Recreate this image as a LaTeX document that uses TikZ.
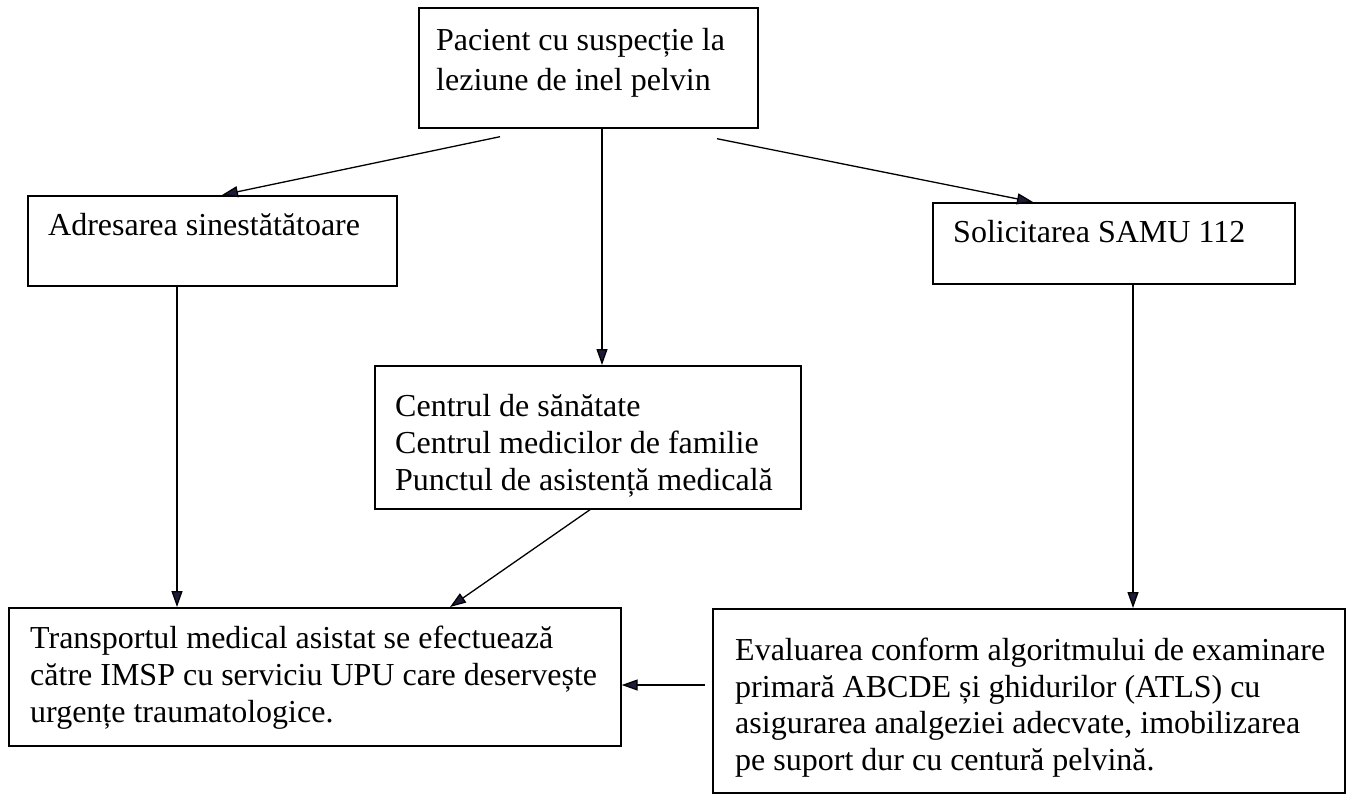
\documentclass[tikz,border=0pt]{standalone}
\usepackage{fontspec}
\setmainfont{Liberation Serif}
\usetikzlibrary{arrows.meta}
\definecolor{tipcol}{HTML}{1C1C38}
\tikzset{
  box/.style={draw=black, line width=1.7pt, inner sep=0pt, anchor=north west},
  txt/.style={inner sep=0pt, anchor=base west, font=\fontsize{32}{37}\selectfont},
  arr/.style={line width=1.3pt, -{Triangle[length=16pt,width=11pt,fill=tipcol]}}
}
\begin{document}
\begin{tikzpicture}[x=1pt,y=-1pt]
\useasboundingbox (0,0) rectangle (1349,795);
% boxes
\node[box, minimum width=339pt, minimum height=120pt] (top) at (418,7) {};
\node[box, minimum width=369pt, minimum height=90pt] (left) at (27,195) {};
\node[box, minimum width=362pt, minimum height=81pt] (right) at (932,202) {};
\node[box, minimum width=426pt, minimum height=143pt] (mid) at (374,365) {};
\node[box, minimum width=612pt, minimum height=138pt] (bl) at (8,607) {};
\node[box, minimum width=632pt, minimum height=184pt] (br) at (712,608) {};
% texts
\node[txt] (top1) at (436,50) {Pacient cu suspecție la};
\node[txt] (top2) at (436,90) {leziune de inel pelvin};
\node[txt] (left1) at (48,235) {Adresarea sinestătătoare};
\node[txt] (right1) at (953,242) {Solicitarea SAMU 112};
\node[txt] (mid1) at (395,416) {Centrul de sănătate};
\node[txt] (mid2) at (395,453) {Centrul medicilor de familie};
\node[txt] (mid3) at (395,490) {Punctul de asistență medicală};
\node[txt] (bl1) at (30,648) {Transportul medical asistat se efectuează};
\node[txt] (bl2) at (30,685) {către IMSP cu serviciu UPU care deservește};
\node[txt] (bl3) at (30,722) {urgențe traumatologice.};
\node[txt] (br1) at (735,660) {Evaluarea conform algoritmului de examinare};
\node[txt] (br2) at (735,697) {primară ABCDE și ghidurilor (ATLS) cu};
\node[txt] (br3) at (735,733) {asigurarea analgeziei adecvate, imobilizarea};
\node[txt] (br4) at (735,770) {pe suport dur cu centură pelvină.};
% connectors
\draw[arr] ([shift={(82,8)}]top.south west) -- ([shift={(195,0)}]left.north west);
\draw[arr] ([shift={(184,0)}]top.south west) -- ([shift={(228,0)}]mid.north west);
\draw[arr] ([shift={(299,10)}]top.south west) -- ([shift={(101,0)}]right.north west);
\draw[arr] ([shift={(150,0)}]left.south west) -- ([shift={(169,0)}]bl.north west);
\draw[arr] ([shift={(201,0)}]right.south west) -- ([shift={(421,0)}]br.north west);
\draw[arr] ([shift={(216,0)}]mid.south west) -- ([shift={(442,0)}]bl.north west);
\draw[arr] ([shift={(-7,77)}]br.north west) -- ([shift={(0,78)}]bl.north east);
\end{tikzpicture}
\end{document}
